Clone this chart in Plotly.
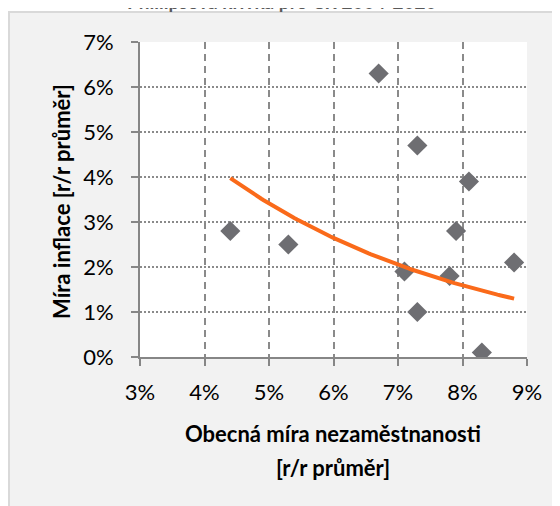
import numpy as np
import plotly.graph_objects as go

# Data (percent)
unemployment = [4.4, 5.3, 6.7, 7.3, 8.1, 7.9, 8.8, 7.1, 7.8, 7.3, 8.3]
inflation = [2.8, 2.5, 6.3, 4.7, 3.9, 2.8, 2.1, 1.9, 1.8, 1.0, 0.1]
x_tick_vals = [3, 4, 5, 6, 7, 8, 9]
x_tick_text = ["3%", "4%", "5%", "6%", "7%", "8%", "9%"]
y_tick_vals = [0, 1, 2, 3, 4, 5, 6, 7]
y_tick_text = ["0%", "1%", "2%", "3%", "4%", "5%", "6%", "7%"]
title_text = "Phillipsova křivka pro ČR 2004-2020"
x_title_line1 = "Obecná míra nezaměstnanosti"
x_title_line2 = "[r/r průměr]"
y_title = "Míra inflace [r/r průměr]"

# Exponential trendline fitted to the data (as a spreadsheet would)
b, a = np.polyfit(unemployment, np.log(inflation), 1)
trend_x = np.linspace(min(unemployment), max(unemployment), 120)
trend_y = np.exp(a + b * trend_x)

OFF = 8  # page body margin
W, H = 560 - OFF, 506 - OFF
L, R, T, B = 140 - OFF, 527 - OFF, 42 - OFF, 357 - OFF
PW, PH = R - L, B - T


def px(page_x):
    return (page_x - OFF - L) / PW


def py(page_y):
    return (B - (page_y - OFF)) / PH


FONT = "Lato"
GRID = "#8a8a8a"
AXIS = "#868686"

fig = go.Figure()
fig.add_trace(go.Scatter(
    x=unemployment, y=inflation, mode="markers",
    marker=dict(symbol="diamond", size=15.5, color="#6e6e72", line=dict(width=0)),
    showlegend=False, hoverinfo="x+y"))
fig.add_trace(go.Scatter(
    x=trend_x, y=trend_y, mode="lines",
    line=dict(color="#fa6a1a", width=4), showlegend=False, hoverinfo="skip"))

fig.update_layout(
    width=W, height=H,
    margin=dict(l=L, r=W - R, t=T, b=H - B, pad=0),
    paper_bgcolor="#f2f2f2", plot_bgcolor="#ffffff",
    font=dict(family=FONT, color="#000000"),
    xaxis=dict(
        range=[3, 9], tickmode="array", tickvals=x_tick_vals, ticktext=x_tick_text,
        showgrid=True, gridcolor=GRID, gridwidth=1.5, griddash="7px,5px",
        showline=True, linecolor=AXIS, linewidth=2,
        ticks="outside", ticklen=7, tickwidth=2, tickcolor=AXIS,
        tickfont=dict(size=22, family=FONT, color="#000000"),
        ticklabelstandoff=8, zeroline=False, fixedrange=True),
    yaxis=dict(
        range=[0, 7], tickmode="array", tickvals=y_tick_vals, ticktext=y_tick_text,
        showgrid=True, gridcolor=GRID, gridwidth=1.5, griddash="2px,2px",
        showline=True, linecolor=AXIS, linewidth=2,
        ticks="outside", ticklen=7, tickwidth=2, tickcolor=AXIS,
        tickfont=dict(size=22, family=FONT, color="#000000"),
        ticklabelstandoff=13, zeroline=False, fixedrange=True),
    shapes=[
        dict(type="rect", xref="paper", yref="paper", x0=px(-20), x1=px(600), y0=py(-20), y1=py(12),
             fillcolor="#ffffff", line=dict(width=0), layer="below"),
        dict(type="line", xref="paper", yref="paper", x0=px(9), x1=px(9), y0=py(12), y1=py(520),
             line=dict(color="#d9d9d9", width=2), layer="below"),
        dict(type="line", xref="paper", yref="paper", x0=px(8), x1=px(600), y0=py(12), y1=py(12),
             line=dict(color="#d9d9d9", width=2), layer="below"),
    ],
    annotations=[
        dict(text=f"<b>{title_text}</b>", xref="paper", yref="paper", x=px(282), y=py(6.8 + OFF),
             xanchor="center", yanchor="bottom", showarrow=False,
             font=dict(size=19, family=FONT, color="#595959")),
        dict(text=f"<b>{x_title_line1}</b>", xref="paper", yref="paper", x=px(333), y=py(433),
             xanchor="center", yanchor="middle", showarrow=False,
             font=dict(size=22, family=FONT, color="#000000")),
        dict(text=f"<b>{x_title_line2}</b>", xref="paper", yref="paper", x=px(333), y=py(467),
             xanchor="center", yanchor="middle", showarrow=False,
             font=dict(size=22, family=FONT, color="#000000")),
        dict(text=f"<b>{y_title}</b>", xref="paper", yref="paper", x=px(61), y=py(202),
             xanchor="center", yanchor="middle", textangle=-90, showarrow=False,
             font=dict(size=22, family=FONT, color="#000000")),
    ],
)

fig.write_html("out.html")
